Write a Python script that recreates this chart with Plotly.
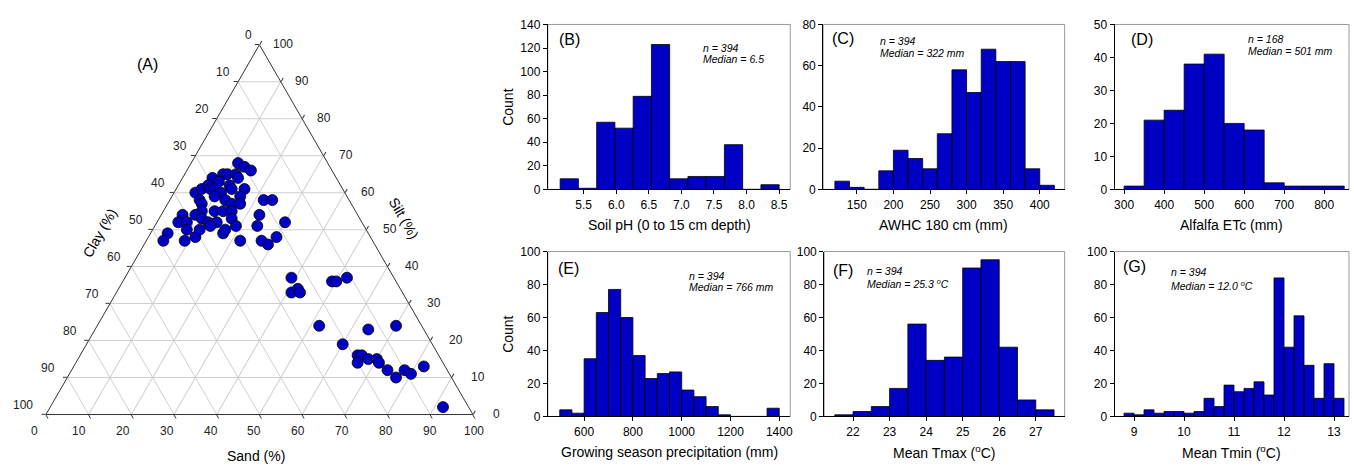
import math
import plotly.graph_objects as go

# ---------------- data ----------------
# Soil texture (percent)
sand = [11, 13, 15, 9, 10, 12, 13, 7, 9, 12,
        16, 5, 6, 7, 8, 9, 11, 13, 16, 10,
        7, 8, 13, 15, 17, 22, 24, 5, 9, 12,
        14, 16, 23, 30, 5, 7, 8, 10, 12, 14,
        17, 19, 24, 4, 4, 9, 11, 11, 17, 17,
        22, 27, 29, 30, 8, 13,
        39, 41, 42, 43, 49, 50, 52, 52, 64, 70, 60,
        65, 66, 66, 68, 70, 71, 74, 77, 78, 80, 82, 92]
silt = [68, 67, 66, 65, 65, 65, 64, 64, 63, 62,
        61, 60, 61, 62, 61, 61, 60, 61, 59, 59,
        58, 57, 58, 57, 57, 58, 58, 54, 55, 55,
        55, 55, 54, 52, 52, 52, 54, 53, 52, 52,
        53, 51, 51, 49, 47, 47, 48, 50, 49, 50,
        47, 47, 46, 48, 50, 51,
        37, 33, 34, 33, 36, 36, 37, 24, 23, 24, 19,
        16, 16, 14, 15, 15, 14, 12, 10, 12, 11, 13, 2]
clay = [100 - s - t for s, t in zip(sand, silt)]
tern_ticks = [0, 10, 20, 30, 40, 50, 60, 70, 80, 90, 100]

# Histograms: bin edges and counts
ph_edges = [5.14, 5.42, 5.70, 5.98, 6.26, 6.54, 6.82, 7.10, 7.38, 7.66, 7.94, 8.22, 8.50]
ph_counts = [9, 1, 57, 52, 79, 123, 9, 11, 11, 38, 0, 4]
ph_ticks = [5.5, 6.0, 6.5, 7.0, 7.5, 8.0, 8.5]

awhc_edges = [120, 140, 160, 180, 200, 220, 240, 260, 280, 300, 320, 340, 360, 380, 400, 420]
awhc_counts = [4, 1, 0, 9, 19, 15, 10, 27, 58, 47, 68, 62, 62, 10, 2]
awhc_ticks = [150, 200, 250, 300, 350, 400]

etc_edges = [300, 350, 400, 450, 500, 550, 600, 650, 700, 750, 800, 850]
etc_counts = [1, 21, 24, 38, 41, 20, 18, 2, 1, 1, 1]
etc_ticks = [300, 400, 500, 600, 700, 800]

prec_edges = [500, 550, 600, 650, 700, 750, 800, 850, 900, 950, 1000, 1050, 1100,
              1150, 1200, 1250, 1300, 1350, 1400]
prec_counts = [4, 2, 35, 63, 77, 60, 37, 23, 26, 27, 16, 12, 6, 1, 0, 0, 0, 5]
prec_ticks = [600, 800, 1000, 1200, 1400]

tmax_edges = [21.5, 22.0, 22.5, 23.0, 23.5, 24.0, 24.5, 25.0, 25.5, 26.0, 26.5, 27.0, 27.5]
tmax_counts = [1, 3, 6, 17, 56, 34, 36, 90, 95, 42, 10, 4]
tmax_ticks = [22, 23, 24, 25, 26, 27]

tmin_edges = [8.8, 9.0, 9.2, 9.4, 9.6, 9.8, 10.0, 10.2, 10.4, 10.6, 10.8, 11.0, 11.2,
              11.4, 11.6, 11.8, 12.0, 12.2, 12.4, 12.6, 12.8, 13.0, 13.2]
tmin_counts = [2, 1, 4, 2, 3, 3, 2, 3, 11, 6, 19, 15, 17, 21, 13, 84, 42, 61, 31, 11, 32, 11]
tmin_ticks = [9, 10, 11, 12, 13]

# ---------------- layout helpers ----------------
W, H = 1354, 471
FONT = "Liberation Sans, Arial, sans-serif"
BLUE = "#0000C4"


def fx(p):
    return p / W


def fy(p):
    return 1 - p / H


def note(text, x, y, size, xanchor="center", yanchor="middle", angle=0, color="black"):
    return dict(text=text, x=fx(x), y=fy(y), xref="paper", yref="paper",
                xanchor=xanchor, yanchor=yanchor, textangle=angle,
                showarrow=False, font=dict(size=size, color=color, family=FONT))


fig = go.Figure()

# ---------------- (A) ternary ----------------
TL, TR, TB = 40, 480, 420          # triangle left / right / bottom (pixels)
TW = TR - TL
TH = TW * math.sqrt(3) / 2

fig.add_trace(go.Scatterternary(
    a=silt, b=clay, c=sand, mode="markers",
    marker=dict(size=11, color=BLUE, line=dict(color="black", width=0.8)),
    showlegend=False,
    hovertemplate="Sand %{c}%<br>Silt %{a}%<br>Clay %{b}%<extra></extra>",
))


def tern_axis():
    return dict(
        tickmode="array", tickvals=tern_ticks, showticklabels=False,
        ticks="outside", ticklen=4, tickcolor="#333",
        linecolor="#333", linewidth=1,
        showgrid=True, gridcolor="#cfcfcf", gridwidth=1,
        title=dict(text=""),
    )


fig.update_layout(ternary=dict(
    sum=100,
    domain=dict(x=[fx(TL), fx(TR)], y=[fy(TB), fy(TB - TH)]),
    bgcolor="white",
    aaxis=tern_axis(), baxis=tern_axis(), caxis=tern_axis(),
))

annotations = [
    note("(A)", 148, 59, 16),
    note("Clay (%)", 100, 233, 14, angle=-60),
    note("Silt (%)", 405, 217, 14, angle=60),
    note("Sand (%)", 257, 463, 14),
]
# ternary tick labels (counter-clockwise convention of the original)
for v in tern_ticks:
    f = v / 100
    # sand along the bottom edge
    annotations.append(note(str(v), TL + TW * f - 5, TB + 17, 12, color="#222"))
    # clay along the left edge (clay = v where silt = 100 - v)
    ex, ey = TL + (1 - f) * TW / 2, TB - (1 - f) * TH
    annotations.append(note(str(v), ex - 5, ey - 10, 12, xanchor="right", color="#222"))
    # silt along the right edge
    ex, ey = TR - f * TW / 2, TB - f * TH
    annotations.append(note(str(v), ex + 12, ey - 1, 12, xanchor="left", color="#222"))

shapes = []

# ---------------- histograms ----------------
panels = [
    dict(edges=ph_edges, counts=ph_counts, ticks=ph_ticks, fmt=".1f",
         xr=[4.95, 8.67], yr=[0, 140], dy=20, dx=(549, 792), dyp=(18, 188),
         title="Soil pH (0 to 15 cm depth)", label="(B)", lab=(558, 33),
         n="n = 394", med="Median = 6.5", np=(703, 42, 54), count=True),
    dict(edges=awhc_edges, counts=awhc_counts, ticks=awhc_ticks, fmt="d",
         xr=[104, 434], yr=[0, 80], dy=20, dx=(825, 1067), dyp=(18, 188),
         title="AWHC 180 cm (mm)", label="(C)", lab=(832, 32),
         n="n = 394", med="Median = 322 mm", np=(880, 35, 47), count=False),
    dict(edges=etc_edges, counts=etc_counts, ticks=etc_ticks, fmt="d",
         xr=[276, 862], yr=[0, 50], dy=10, dx=(1117, 1352), dyp=(18, 188),
         title="Alfalfa ETc (mm)", label="(D)", lab=(1132, 33),
         n="n = 168", med="Median = 501 mm", np=(1249, 33, 45), count=False),
    dict(edges=prec_edges, counts=prec_counts, ticks=prec_ticks, fmt="d",
         xr=[451, 1445], yr=[0, 100], dy=20, dx=(549, 792), dyp=(252, 422),
         title="Growing season precipitation (mm)", label="(E)", lab=(557, 270),
         n="n = 394", med="Median = 766 mm", np=(689, 277, 289), count=True),
    dict(edges=tmax_edges, counts=tmax_counts, ticks=tmax_ticks, fmt="d",
         xr=[21.21, 27.79], yr=[0, 100], dy=20, dx=(826, 1067), dyp=(252, 422),
         title="Mean Tmax (<sup>o</sup>C)", label="(F)", lab=(833, 272),
         n="n = 394", med="Median = 25.3 <sup>o</sup>C", np=(867, 272, 285), count=False),
    dict(edges=tmin_edges, counts=tmin_counts, ticks=tmin_ticks, fmt="d",
         xr=[8.61, 13.3], yr=[0, 100], dy=20, dx=(1117, 1352), dyp=(252, 422),
         title="Mean Tmin (<sup>o</sup>C)", label="(G)", lab=(1123, 267),
         n="n = 394", med="Median = 12.0 <sup>o</sup>C", np=(1172, 273, 287), count=False),
]

for i, p in enumerate(panels, start=2):
    e = p["edges"]
    centers = [(e[k] + e[k + 1]) / 2 for k in range(len(e) - 1)]
    widths = [e[k + 1] - e[k] for k in range(len(e) - 1)]
    fig.add_trace(go.Bar(
        x=centers, y=p["counts"], width=widths,
        xaxis=f"x{i}", yaxis=f"y{i}", showlegend=False,
        marker=dict(color=BLUE, line=dict(color="black", width=0.8)),
    ))
    fig.layout[f"xaxis{i}"] = dict(
        domain=[fx(p["dx"][0]), fx(p["dx"][1])], anchor=f"y{i}",
        range=p["xr"], tickmode="array", tickvals=p["ticks"], tickformat=p["fmt"],
        ticks="outside", ticklen=4, tickcolor="black",
        showline=True, linecolor="black", linewidth=1,
        showgrid=False, zeroline=False,
        tickfont=dict(size=12, color="black", family=FONT),
    )
    fig.layout[f"yaxis{i}"] = dict(
        domain=[fy(p["dyp"][1]), fy(p["dyp"][0])], anchor=f"x{i}",
        range=p["yr"], dtick=p["dy"], tick0=0,
        ticks="outside", ticklen=4, tickcolor="black",
        showline=True, linecolor="black", linewidth=1,
        showgrid=False, zeroline=False,
        tickfont=dict(size=12, color="black", family=FONT),
    )
    shapes.append(dict(type="rect", xref=f"x{i} domain", yref=f"y{i} domain",
                       x0=0, x1=1, y0=0, y1=1, layer="below",
                       line=dict(color="#9a9a9a", width=1)))
    xmid = (p["dx"][0] + p["dx"][1]) / 2
    annotations += [
        note(p["title"], xmid, p["dyp"][1] + 37, 14),
        note(p["label"], p["lab"][0], p["lab"][1], 16, xanchor="left"),
        note(f"<i>{p['n']}</i>", p["np"][0], p["np"][1], 10.5, xanchor="left"),
        note(f"<i>{p['med']}</i>", p["np"][0], p["np"][2], 10.5, xanchor="left"),
    ]
    if p["count"]:
        ymid = (p["dyp"][0] + p["dyp"][1]) / 2
        annotations.append(note("Count", 509, ymid, 14, angle=-90))

fig.update_layout(
    width=W, height=H,
    margin=dict(l=0, r=0, t=0, b=0),
    paper_bgcolor="white", plot_bgcolor="white",
    font=dict(family=FONT, color="black"),
    annotations=annotations, shapes=shapes,
    showlegend=False,
)

fig.write_html(
    "out.html",
    config={"displayModeBar": False},
    post_script="document.body.style.margin='0';document.body.style.overflow='hidden';",
)
